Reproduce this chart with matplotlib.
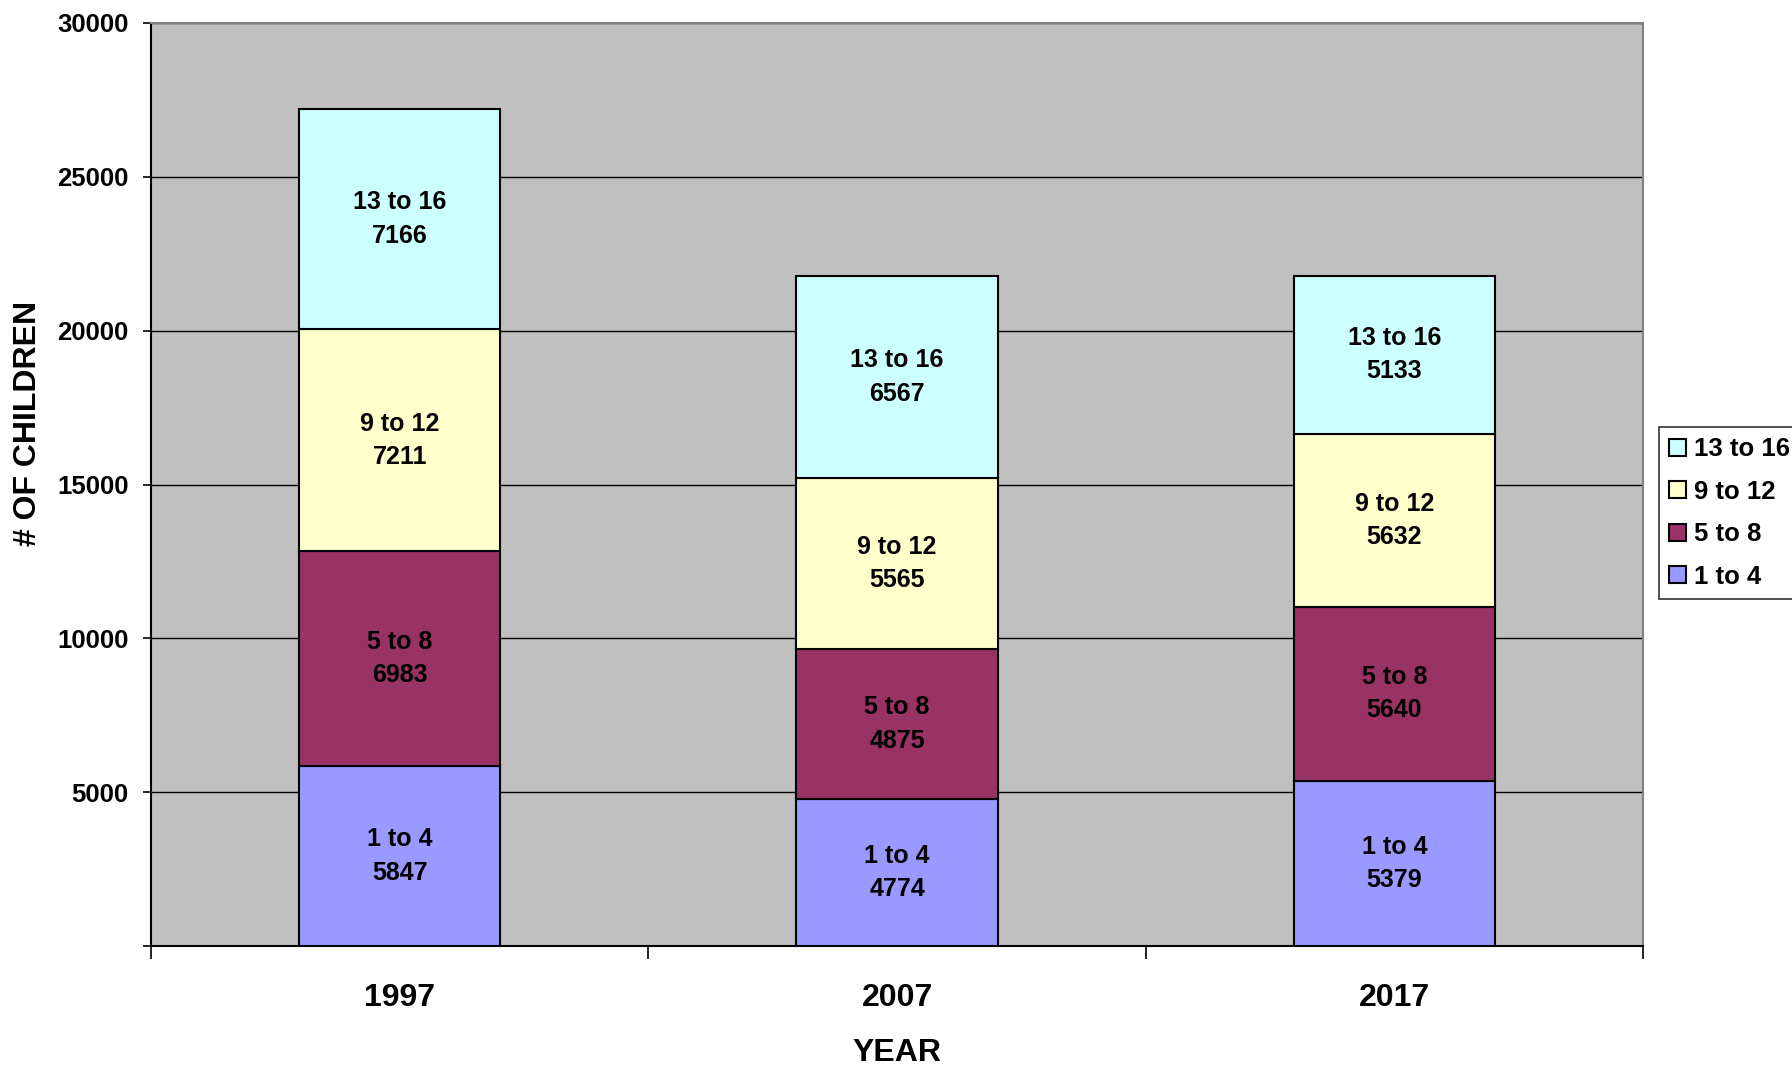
import matplotlib
matplotlib.use('Agg')
import matplotlib.pyplot as plt
import numpy as np

# data
years = ['1997', '2007', '2017']
groups = ['1 to 4', '5 to 8', '9 to 12', '13 to 16']
age_1_4 = [5847, 4774, 5379]
age_5_8 = [6983, 4875, 5640]
age_9_12 = [7211, 5565, 5632]
age_13_16 = [7166, 6567, 5133]
yticks = [0, 5000, 10000, 15000, 20000, 25000, 30000]
ytick_labels = ['', '5000', '10000', '15000', '20000', '25000', '30000']

colors = ['#9999FF', '#993366', '#FFFFCC', '#CCFFFF']

plt.rcParams['font.family'] = ['Liberation Sans', 'DejaVu Sans']
plt.rcParams['font.weight'] = 'bold'

fig = plt.figure(figsize=(17.92, 10.67), dpi=100)
ax = fig.add_axes([151/1792, 1 - 946/1067, (1643-151)/1792, (946-23)/1067])
ax.set_facecolor('#C0C0C0')

x = np.arange(len(years))
bottom = np.zeros(len(years))
series = [age_1_4, age_5_8, age_9_12, age_13_16]
handles = []
for vals, name, c in zip(series, groups, colors):
    b = ax.bar(x, vals, width=0.405, bottom=bottom, color=c, edgecolor='black',
               linewidth=1.5, label=name, zorder=3)
    handles.append(b)
    for xi, v, bt in zip(x, vals, bottom):
        ax.text(xi, bt + v / 2, '%s\n%d' % (name, v), ha='center', va='center',
                fontsize=18, fontweight='bold', linespacing=1.5, zorder=4)
    bottom = bottom + np.array(vals)

ax.set_xlim(-0.5, 2.5)
ax.set_ylim(0, 30000)
ax.set_yticks(yticks)
ax.set_yticklabels(ytick_labels, fontsize=18.5, fontweight='bold')
ax.yaxis.grid(True, color='black', linewidth=1, zorder=1)
ax.set_axisbelow(True)

# x ticks between categories, labels in centre
ax.set_xticks([-0.5, 0.5, 1.5, 2.5])
ax.set_xticklabels([])
ax.set_xticks(x, minor=True)
ax.set_xticklabels(years, minor=True, fontsize=23, fontweight='bold')
ax.tick_params(axis='x', which='major', length=9, width=1.2, direction='out')
ax.tick_params(axis='x', which='minor', length=0, pad=27)
ax.tick_params(axis='y', length=6, width=1.2, direction='out', pad=10)

for s in ['left', 'bottom']:
    ax.spines[s].set_color('black')
    ax.spines[s].set_linewidth(1.5)
for s in ['top', 'right']:
    ax.spines[s].set_color('#808080')
    ax.spines[s].set_linewidth(1.5)

fig.text(28/1792, 1 - 423/1067, '# OF CHILDREN', rotation=90, ha='center', va='center',
         fontsize=23, fontweight='bold')
fig.text(897/1792, 1 - 1053/1067, 'YEAR', ha='center', va='center',
         fontsize=23, fontweight='bold')

leg = fig.legend(handles[::-1], groups[::-1], loc='upper left',
                 bbox_to_anchor=(1659/1792, 1 - 427/1067), fontsize=18.5,
                 frameon=True, fancybox=False, edgecolor='black',
                 handlelength=0.65, handleheight=0.65, handletextpad=0.3,
                 labelspacing=0.72, borderpad=0.4, borderaxespad=0)
leg.get_frame().set_linewidth(1.2)
for h in leg.legend_handles:
    h.set_linewidth(1.5)

fig.savefig('out.png', dpi=100, facecolor='white')
